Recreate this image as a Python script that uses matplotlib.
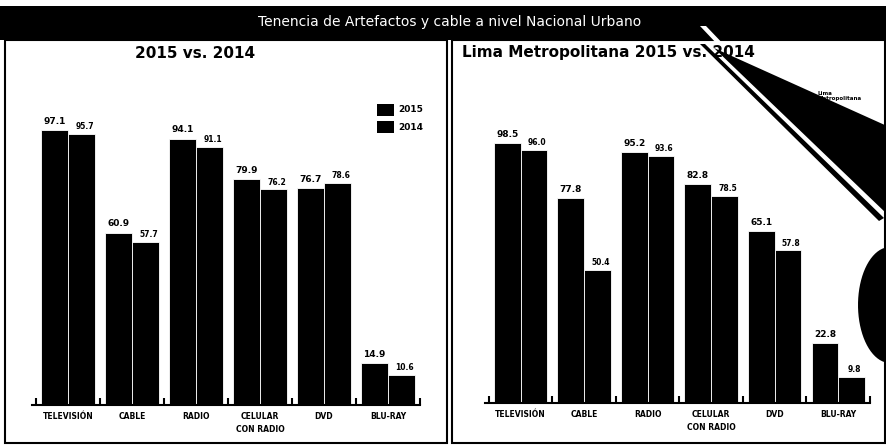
import matplotlib
matplotlib.use("Agg")
import matplotlib.pyplot as plt
from matplotlib.patches import Rectangle, Polygon
import numpy as np

categorias = ["TELEVISIÓN", "CABLE", "RADIO", "CELULAR\nCON RADIO", "DVD", "BLU-RAY"]

# nivel nacional urbano
nac_2015 = [97.1, 60.9, 94.1, 79.9, 76.7, 14.9]
nac_2014 = [95.7, 57.7, 91.1, 76.2, 78.6, 10.6]

# lima metropolitana
lima_2015 = [98.5, 77.8, 95.2, 82.8, 65.1, 22.8]
lima_2014 = [96.0, 50.4, 93.6, 78.5, 57.8, 9.8]

W, H = 887, 448
fig = plt.figure(figsize=(W / 100, H / 100), dpi=100)
fig.patch.set_facecolor("white")


def fx(px):
    return px / W


def fy(py):
    return 1 - py / H


# banner
fig.add_artist(Rectangle((0, fy(40)), 1, fy(6) - fy(40), transform=fig.transFigure,
                         facecolor="black", edgecolor="none"))
fig.text(fx(450), fy(22), "Tenencia de Artefactos y cable a nivel Nacional Urbano",
         color="white", fontsize=10, ha="center", va="center")

# panel boxes
for x0, x1 in [(5, 447), (452, 885)]:
    fig.add_artist(Rectangle((fx(x0), fy(443)), fx(x1 - x0), fy(40) - fy(443),
                             transform=fig.transFigure, facecolor="none",
                             edgecolor="black", linewidth=1.5))


def panel(rect, ylim_top, v15, v14):
    ax = fig.add_axes(rect)
    x = np.arange(len(categorias))
    w = 0.42
    ax.bar(x - w / 2, v15, w, color="black", edgecolor="white", linewidth=0.6)
    ax.bar(x + w / 2, v14, w, color="black", edgecolor="white", linewidth=0.6)
    for xi, a, b in zip(x, v15, v14):
        ax.text(xi - w / 2, a + 1.5, f"{a:.1f}", ha="center", va="bottom",
                fontsize=6.5, fontweight="heavy")
        ax.text(xi + w / 2 + 0.05, b + 1.0, f"{b:.1f}", ha="center", va="bottom",
                fontsize=5.5, fontweight="heavy")
    ax.set_xlim(-0.56, 5.5)
    ax.set_ylim(0, ylim_top)
    ax.set_xticks(x)
    ax.set_xticklabels(categorias, fontsize=5.5, fontweight="bold", linespacing=1.6)
    ax.set_xticks(np.arange(-0.5, 6, 1), minor=True)
    ax.tick_params(axis="x", which="major", length=0, pad=5)
    ax.tick_params(axis="x", which="minor", direction="in", length=5, width=1.5)
    ax.set_yticks([])
    for s in ["top", "right", "left"]:
        ax.spines[s].set_visible(False)
    ax.spines["bottom"].set_linewidth(1.5)
    ax.patch.set_alpha(0)
    return ax


panel([fx(32), 1 - 405 / H, fx(388), 305 / H], 305 / 2.83, nac_2015, nac_2014)
panel([fx(485), 1 - 403 / H, fx(385), 303 / H], 303 / 2.64, lima_2015, lima_2014)

# subtitles
fig.text(fx(195), fy(53), "2015 vs. 2014", fontsize=11, fontweight="heavy",
         ha="center", va="center")
fig.text(fx(462), fy(53), "Lima Metropolitana 2015 vs. 2014", fontsize=11,
         fontweight="heavy", ha="left", va="center")

# legend
for py, lab in [(110, "2015"), (127, "2014")]:
    fig.add_artist(Rectangle((fx(377), fy(py + 6)), fx(17), fy(py - 6) - fy(py + 6),
                             transform=fig.transFigure, facecolor="black"))
    fig.text(fx(398), fy(py), lab, fontsize=6.5, fontweight="bold", va="center")

# callout graphic on the right
fig.add_artist(Polygon([(fx(700), fy(26)), (fx(706), fy(26)), (fx(884), fy(212)),
                        (fx(879), fy(215))], closed=True, transform=fig.transFigure,
                       facecolor="white", edgecolor="none"))
fig.add_artist(Polygon([(fx(700), fy(44)), (fx(705), fy(44)), (fx(884), fy(218)),
                        (fx(879), fy(221))], closed=True, transform=fig.transFigure,
                       facecolor="black", edgecolor="none"))
fig.add_artist(Polygon([(fx(714), fy(48)), (fx(887), fy(126)), (fx(887), fy(214))],
                       closed=True, transform=fig.transFigure,
                       facecolor="black", edgecolor="none"))
fig.text(fx(818), fy(96), "Lima\nMetropolitana", fontsize=4, fontweight="bold",
         ha="left", va="center")
th = np.linspace(np.pi / 2, 3 * np.pi / 2, 40)
circ = [(fx(890 + 32 * np.cos(t)), fy(305 + 58 * np.sin(t))) for t in th]
fig.add_artist(Polygon(circ, closed=True, transform=fig.transFigure,
                       facecolor="black", edgecolor="none"))

fig.savefig("out.png", dpi=100)
